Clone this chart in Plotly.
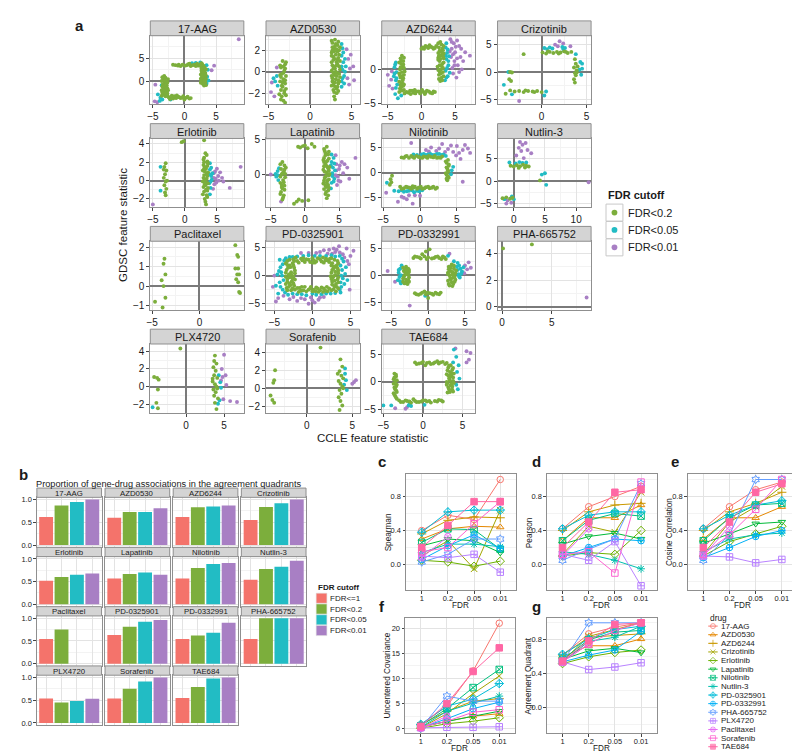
import plotly.graph_objects as go

W, H = 800, 756
FONT = "Liberation Sans, Arial, sans-serif"
TXT = "#1a1a1a"
BORDER = "#8f8f8f"
GRID = "#e3e3e3"
MINOR = "#f3f3f3"
STRIP_FILL = "#d4d4d4"
ZERO = "#7a7a7a"

# ------------------------------------------------------------------ data
drugs = ["17-AAG", "AZD0530", "AZD6244", "Crizotinib", "Erlotinib", "Lapatinib", "Nilotinib",
         "Nutlin-3", "PD-0325901", "PD-0332991", "PHA-665752", "PLX4720", "Paclitaxel",
         "Sorafenib", "TAE684"]
facet_order = ["17-AAG", "AZD0530", "AZD6244", "Crizotinib", "Erlotinib", "Lapatinib",
               "Nilotinib", "Nutlin-3", "Paclitaxel", "PD-0325901", "PD-0332991",
               "PHA-665752", "PLX4720", "Sorafenib", "TAE684"]
fdr_levels = ["1", "0.2", "0.05", "0.01"]
cutoffs_a = ["FDR<0.2", "FDR<0.05", "FDR<0.01"]
cutoffs_b = ["FDR<=1", "FDR<0.2", "FDR<0.05", "FDR<0.01"]

# proportion of associations in agreement quadrants (panel b and g), order = drugs
agreement = [
    [0.62, 0.87, 0.95, 1.00], [0.60, 0.73, 0.73, 0.81], [0.62, 0.83, 0.85, 0.87],
    [0.55, 0.84, 0.92, 1.00], [0.52, 0.60, 0.65, 0.68], [0.57, 0.67, 0.70, 0.65],
    [0.57, 0.80, 0.89, 0.91], [0.54, 0.78, 0.83, 0.96], [0.63, 0.81, 0.92, 0.96],
    [0.54, 0.62, 0.68, 0.90], [0.54, 1.00, 1.00, 1.00], [0.54, 0.45, 0.48, 0.53],
    [0.54, 0.75, None, None], [0.54, 0.75, 0.91, 1.00], [0.55, 0.79, 0.98, 1.00]]
spearman = [
    [0.40, 0.58, 0.53, 1.00], [0.30, 0.42, 0.45, 0.44], [0.36, 0.52, 0.56, 0.55],
    [0.10, 0.28, -0.05, 0.64], [0.05, 0.03, -0.02, 0.04], [0.22, 0.30, 0.28, 0.14],
    [0.26, 0.42, 0.41, 0.18], [0.14, 0.24, 0.24, 0.21], [0.38, 0.62, 0.64, 0.64],
    [0.06, 0.22, 0.35, 0.19], [0.03, 0.12, 0.30, 0.30], [0.10, 0.08, 0.12, -0.09],
    [0.08, 0.33, None, None], [0.15, 0.20, 0.48, 0.74], [0.20, 0.46, 0.74, 0.74]]
pearson = [
    [0.42, 0.68, 0.80, 0.92], [0.28, 0.55, 0.55, 0.70], [0.40, 0.62, 0.70, 0.72],
    [0.12, 0.45, 0.38, 0.85], [0.10, 0.14, 0.12, 0.40], [0.24, 0.33, 0.37, 0.30],
    [0.28, 0.52, 0.60, 0.57], [0.15, 0.12, 0.05, -0.05], [0.42, 0.58, 0.62, 0.62],
    [0.10, 0.20, 0.30, 0.28], [0.05, 0.18, 0.30, 0.95], [0.12, 0.05, 0.27, -0.25],
    [0.10, 0.42, None, None], [0.12, 0.15, -0.10, 0.97], [0.20, 0.50, 0.85, 0.88]]
cosine = [
    [0.42, 0.68, 0.88, 0.97], [0.30, 0.55, 0.55, 0.68], [0.40, 0.62, 0.72, 0.85],
    [0.12, 0.50, 0.68, 0.92], [0.10, 0.27, 0.36, 0.45], [0.25, 0.36, 0.48, 0.50],
    [0.28, 0.55, 0.70, 0.72], [0.15, 0.30, 0.35, 0.37], [0.42, 0.58, 0.70, 0.75],
    [0.08, 0.20, 0.33, 0.40], [0.05, 0.35, 1.00, 1.00], [0.10, 0.09, 0.02, 0.06],
    [0.10, 0.45, None, None], [0.12, 0.35, 0.65, 1.00], [0.20, 0.50, 0.85, 0.95]]
covariance = [
    [0.8, 4.5, 11.5, 21.0], [0.3, 1.5, 2.5, 3.0], [0.8, 3.5, 5.5, 6.0],
    [0.2, 3.0, 7.0, 10.5], [0.1, 1.0, 1.5, 2.2], [0.4, 1.5, 2.5, 3.5],
    [0.6, 4.0, 8.2, 11.8], [0.3, 3.5, 5.1, 6.5], [0.9, 4.5, 5.9, 9.0],
    [0.2, 2.0, 4.0, 5.3], [0.1, 6.5, 5.5, 5.5], [0.2, 0.3, 0.3, 0.4],
    [0.1, 2.5, None, None], [0.3, 1.5, 3.3, 3.8], [0.5, 5.0, 11.4, 16.1]]

# panel a: (CCLE statistic, GDSC statistic) points, per drug and FDR cutoff
aag_g = [(-3.2,1.2),(-3.0,0.8),(-3.3,0.4),(-2.9,0.0),(-3.1,-0.3),(-3.4,-0.6),(-2.8,-0.9),(-3.0,-1.2),(-3.3,-1.5),(-2.9,-1.8),(-3.1,-2.1),(-3.5,-2.4),(-2.7,-2.6),(-3.2,-2.9),(-3.0,-3.2),(-2.8,-0.4),(-3.2,-1.0),(-3.0,-2.0),(-3.4,-2.8),(-2.7,-1.5),(-3.1,0.3),(-3.6,-1.9),
         (-3.5,0.9),(-2.6,0.5),(-3.6,0.1),(-2.7,-0.2),(-3.5,-1.1),(-2.6,-1.9),(-3.3,-2.3),(-2.8,-3.0),(-3.6,-3.1),(-3.0,-2.6),(-3.2,-1.7),(-2.9,-1.4),
         (-2.5,-3.4),(-2.0,-3.1),(-1.5,-3.5),(-1.0,-3.3),(-0.6,-3.6),(-0.2,-3.2),(0.3,-3.5),(0.8,-3.7),(-1.8,-3.7),(-1.2,-3.0),(0.0,-3.9),(-2.3,-3.8),
         (-2.7,-3.0),(-1.6,-3.2),(-0.8,-3.4),(-0.3,-3.5),(0.5,-3.3),(1.0,-3.6),(-2.0,-3.5),(-1.3,-3.6),
         (-1.8,3.6),(-1.0,3.4),(-0.3,3.6),(0.4,3.5),(1.0,3.3),(1.6,3.6),(2.2,3.4),(2.8,3.7),(0.8,3.8),(-0.6,3.3),(1.3,3.5),(2.0,3.8),
         (-1.4,3.5),(0.1,3.4),(0.6,3.7),(1.8,3.3),(2.4,3.6),(-0.9,3.6),
         (2.7,3.9),(3.0,3.4),(3.2,3.0),(2.8,2.6),(3.1,2.2),(3.3,1.8),(2.6,1.5),(2.9,1.1),(3.2,0.8),(3.0,0.4),(2.7,0.1),(3.3,-0.2),(2.9,-0.5),(3.1,-0.9),(2.8,2.0),(3.4,1.2),(2.6,0.6),(3.0,-0.1),(3.1,2.9),(2.9,1.7),
         (2.6,3.3),(3.4,2.6),(2.7,2.3),(3.3,1.5),(2.8,0.9),(3.4,0.5),(2.6,-0.3),(3.2,-0.6),(2.8,1.3),(3.0,1.9),(3.2,0.1),(2.7,2.8),(3.4,-0.8)]
aag_c = [(-4.2,-2.8),(-3.8,-3.5),(-3.6,-0.8),(-3.9,-4.2),(-2.2,-3.9),(1.2,3.9),(1.8,4.0),(2.5,4.1),(3.5,3.5),(3.7,2.5),(3.6,1.0),(3.8,0.2),(3.5,-0.5),(-3.5,-3.9)]
aag_p = [(-4.6,-0.7),(-4.7,-4.3),(-4.3,-4.5),(4.7,3.4),(4.3,2.4),(8.6,9.1)]

azd0530_g = [(-3.3,1.0),(-3.0,0.7),(-3.5,0.4),(-3.1,0.1),(-3.4,-0.2),(-2.9,-0.4),(-3.2,-0.7),(-3.6,-0.9),(-3.0,-1.1),(-3.3,-1.4),(-3.5,-1.7),(-3.1,-2.0),(-3.4,-2.3),(-3.2,-2.7),(-2.9,-1.6),(-3.6,-0.3),(-3.0,0.3),(-3.3,-1.0),(-3.7,-2.1),(-3.2,0.5),
             (-2.9,0.9),(-3.6,0.6),(-3.2,-0.1),(-3.5,-0.5),(-3.0,-0.8),(-3.4,-1.3),(-3.1,-1.8),(-2.9,-2.2),(-3.5,-2.6),(-3.0,-2.9),
             (3.0,3.0),(2.7,2.7),(3.3,2.5),(2.9,2.2),(3.5,2.0),(2.6,1.8),(3.1,1.6),(3.4,1.3),(2.8,1.1),(3.2,0.9),(2.7,0.6),(3.5,0.5),(3.0,0.3),(2.6,0.1),(3.3,-0.1),(2.9,-0.3),(3.6,-0.5),(3.1,-0.7),(2.7,-0.9),(3.4,-1.1),(3.0,-1.4),(2.8,-1.7),(3.2,-2.0),(2.9,-2.3),(3.3,1.9),(2.8,1.4),(3.6,1.0),(3.1,-0.1),(2.6,-0.4),(3.4,-0.8),(3.0,2.4),(3.2,0.6),(2.8,-1.2),(3.5,-0.2),(3.2,-1.6),
             (2.6,2.9),(3.4,2.8),(3.1,2.6),(2.7,2.3),(3.6,2.3),(3.2,2.1),(2.9,1.9),(2.6,1.5),(3.5,1.6),(3.0,1.2),(2.6,0.9),(3.3,0.7),(2.9,0.5),(3.6,0.2),(2.8,-0.1),(3.2,-0.4),(2.7,-0.6),(3.5,-0.9),(3.0,-1.0),(2.6,-1.3),(3.3,-1.4),(2.9,-1.9),(3.4,-1.8),(3.0,-2.6),(2.7,2.0),(3.1,0.0),(3.3,1.1),(2.8,0.3)]
azd0530_c = [(-4.0,-0.4),(-4.2,-0.9),(-3.9,-1.3),(-4.4,-0.6),(3.8,1.5),(4.0,0.9),(3.9,0.2),(4.1,-0.4),(3.8,-0.9),(4.2,1.2),(3.9,2.2),(4.3,0.5),(3.8,-1.4),
             (3.8,0.5),(4.0,1.8),(3.9,-0.6),(4.2,0.0),(3.8,2.6),(4.1,-1.1)]
azd0530_p = [(-4.6,-1.0),(-4.7,-1.9),(-4.3,-2.3),(-4.0,0.4),(4.6,1.2),(4.8,0.3),(5.2,0.5),(4.5,-0.6),(4.9,1.6),(5.3,-0.8),(4.4,2.1),(4.7,-1.2)]

azd6244_g = [(-2.9,2.0),(-3.1,1.6),(-2.7,1.2),(-3.0,0.8),(-2.8,0.4),(-3.2,0.0),(-2.9,-0.4),(-2.6,-0.8),(-3.1,-1.2),(-2.8,-1.6),(-3.0,-2.0),(-2.7,-2.4),(-3.2,-2.8),(-2.9,-3.1),(-2.6,0.2),(-3.3,-0.6),(-2.8,-2.1),(-3.0,1.3),
             (-2.6,1.7),(-3.3,1.0),(-2.7,0.7),(-3.1,0.3),(-2.5,-0.3),(-3.2,-0.9),(-2.7,-1.3),(-3.3,-1.8),(-2.6,-2.2),(-3.0,-2.6),(-2.6,-3.0),(-3.3,-3.3),(-2.9,-1.0),(-3.1,-2.3),
             (-2.2,-3.3),(-1.7,-3.1),(-1.2,-3.4),(-0.7,-3.2),(-0.2,-3.5),(0.3,-3.3),(0.8,-3.1),(1.3,-3.4),(1.8,-3.2),(-1.0,-3.0),(0.5,-3.6),
             (-2.5,-3.5),(-1.9,-3.4),(-1.4,-3.1),(-0.9,-3.5),(-0.4,-3.2),(0.1,-3.0),(0.6,-3.4),(1.1,-3.2),(1.6,-3.5),(2.0,-3.3),(-1.6,-3.6),
             (0.2,3.2),(0.6,3.4),(1.0,3.1),(1.4,3.3),(1.8,3.0),(2.2,3.4),(0.0,3.0),(0.4,3.0),(0.8,3.3),(1.2,3.5),(1.6,3.2),(2.0,3.1),
             (2.8,4.0),(3.0,3.6),(2.6,3.2),(3.2,2.8),(2.5,2.4),(2.9,2.0),(3.3,1.6),(2.7,1.2),(3.1,0.8),(2.4,0.4),(2.9,0.0),(3.2,-0.4),(2.6,-0.8),(3.0,-1.2),(2.8,-1.7),(3.3,2.3),(2.5,1.7),(3.0,0.5),(2.7,-0.3),(3.1,3.0),
             (2.5,3.8),(3.3,3.4),(2.7,2.7),(3.0,2.5),(2.6,2.0),(3.2,1.9),(2.5,1.4),(3.3,1.0),(2.7,0.6),(3.2,0.2),(2.5,-0.1),(2.9,-0.6),(3.3,-1.0),(2.6,-1.4),(3.1,-1.6),(2.8,1.5)]
azd6244_c = [(-3.8,1.0),(-4.0,0.3),(-3.7,-0.4),(-4.1,-1.0),(-3.8,-1.6),(-3.6,-2.2),(-3.9,-3.6),(-3.5,-4.2),(-3.0,-3.8),(3.6,3.2),(3.8,2.4),(3.7,1.5),(4.0,0.6),(3.6,-0.2),(3.9,-1.0),(3.5,-1.6),(4.1,1.9),
             (3.7,3.8),(3.9,2.9),(3.6,2.0),(4.0,1.2),(3.8,0.2),(4.2,-0.5),(3.7,-1.2),(-3.9,0.7),(-4.0,-0.6),(-3.7,-1.3),(-3.8,-2.7)]
azd6244_p = [(-4.5,-1.5),(-4.8,-2.4),(-4.3,-2.8),(-5.0,-0.8),(-4.4,-0.3),(4.3,4.4),(4.8,3.8),(5.3,4.2),(4.5,3.0),(5.0,2.5),(5.6,3.4),(4.4,1.8),(4.9,1.2),(5.4,0.6),(4.6,0.2),(5.8,1.8),(6.5,2.5),(7.2,2.0),(4.7,-0.6),(5.2,-1.2),(6.0,0.0),(4.2,2.6),
             (4.5,4.0),(5.1,3.3),(5.9,3.0),(4.7,2.2),(5.3,1.6),(6.2,1.2),(4.9,0.6),(5.6,-0.4)]

crizotinib_g = [(-2.0,3.2),(0.1,3.5),(0.5,3.3),(0.9,3.6),(1.3,3.4),(1.7,3.6),(2.1,3.5),(2.5,3.7),(2.9,3.4),(3.3,3.6),(0.7,3.7),(1.9,3.3),(2.7,3.6),
                (3.7,2.3),(3.8,1.5),(3.6,0.8),(3.9,0.3),(3.7,-0.2),(3.8,-0.6),(3.6,-1.3),(3.7,-1.9),(4.0,1.0),(3.9,-0.1),
                (-3.5,-3.3),(-3.0,-3.5),(-2.5,-3.4),(-2.0,-3.6),(-1.5,-3.4),(-1.0,-3.5),(-0.5,-3.4),(0.0,-3.6),(-1.8,-3.3),(-0.8,-3.6),
                (-3.5,0.0),(-3.3,-0.1),(-3.6,-1.3),(-3.4,-1.6),(-4.0,-3.9)]
crizotinib_c = [(0.3,4.3),(0.6,4.1),(0.9,4.4),(1.2,4.2),(2.3,4.5),(2.4,4.1),(2.6,4.3),(4.3,1.8),(4.5,1.5),(4.2,0.4),(4.4,-0.5),(4.5,0.6),(3.8,3.2),(0.5,-3.5),(0.3,-4.2),(-4.2,-2.3),(-3.3,-4.0),(-3.7,0.0)]
crizotinib_p = [(1.5,4.9),(2.0,5.5),(2.4,5.1),(1.8,4.6),(-2.5,-5.2),(3.2,4.6)]

erlotinib_g = [(-3.0,1.9),(-3.2,1.5),(-2.9,1.1),(-3.1,0.7),(-3.3,0.3),(-3.0,-0.1),(-3.2,-0.5),(-2.9,-0.9),(-3.1,-1.3),(-3.0,-1.6),(-3.3,1.2),(-2.8,0.0),
               (-0.5,4.2),(-0.2,4.3),(3.0,4.4),
               (3.2,3.0),(3.0,2.5),(3.5,2.1),(2.9,1.7),(3.3,1.3),(3.6,0.9),(3.0,0.6),(3.4,0.2),(2.8,-0.1),(3.2,-0.5),(3.6,-0.8),(3.0,-1.2),(3.4,-1.6),(3.1,-2.0),(3.3,-2.6),(3.5,1.6),(2.9,0.3),(3.3,-0.2),(3.1,1.0),(3.5,-1.1),(3.0,2.0),
               (3.4,2.8),(2.9,2.3),(3.6,1.9),(3.1,1.5),(2.8,1.1),(3.5,0.5),(3.1,0.1),(3.6,-0.3),(2.9,-0.7),(3.3,-1.0),(2.8,-1.5),(3.5,-1.8),(3.2,-2.3),(3.0,1.3),(3.4,0.7),(3.1,-0.4)]
erlotinib_c = [(-3.8,1.5),(-3.8,-1.1),(3.9,1.2),(4.1,0.5),(3.8,-0.3),(4.0,-0.8),(4.2,0.1),(3.9,1.9),(4.3,0.8),(3.8,0.7),(4.0,-0.1),(3.9,-1.5),(4.1,1.4)]
erlotinib_p = [(4.5,0.8),(4.8,0.2),(5.2,0.5),(4.6,-0.4),(5.5,0.9),(6.0,-0.1),(5.0,1.3),(7.0,-0.8),(8.7,1.5),(-5.0,-2.6),(4.4,-0.9),(5.8,0.3),(4.5,0.3),(4.9,-0.2),(5.3,0.0),(4.7,1.0)]

lapatinib_g = [(-3.3,1.8),(-3.0,1.3),(-3.5,0.8),(-3.1,0.4),(-3.4,0.0),(-2.9,-0.4),(-3.2,-0.8),(-3.6,-1.2),(-3.0,-1.6),(-3.3,-2.0),(-3.5,-2.5),(-3.1,-3.0),(-3.3,-3.6),(-2.8,1.0),(-3.4,-1.8),
               (-3.6,1.5),(-3.0,0.7),(-3.3,0.2),(-3.6,-0.3),(-3.1,-1.1),(-3.4,-1.5),(-3.0,-2.2),(-3.6,-2.8),(-3.2,-3.3),(-2.9,0.1),
               (-1.0,4.0),(-0.7,3.9),(0.0,4.2),(0.4,3.8),(1.0,4.4),(1.4,4.0),(-0.3,4.1),
               (-1.6,-4.2),(-0.9,-3.6),(-0.4,-3.8),(0.5,-3.7),(-1.2,-3.9),
               (3.2,4.0),(2.9,3.4),(3.4,2.9),(2.8,2.4),(3.3,2.0),(3.0,1.5),(3.6,1.1),(2.7,0.7),(3.2,0.3),(3.5,-0.1),(2.9,-0.5),(3.3,-0.9),(2.7,-1.3),(3.1,-1.8),(3.4,-2.3),(3.0,-2.8),(3.2,-3.4),(2.8,1.8),(3.5,0.6),(3.1,-0.2),(3.0,2.8),(3.4,-1.5),
               (2.8,3.7),(3.5,3.3),(3.0,3.1),(2.7,2.1),(3.5,2.3),(3.1,1.8),(2.8,1.2),(3.4,0.9),(2.9,0.4),(3.6,0.1),(3.0,-0.3),(3.5,-0.7),(2.8,-0.9),(3.2,-1.2),(3.5,-1.9),(2.8,-2.1),(3.1,-2.5),(3.4,-3.0),(3.2,1.2),(3.0,-1.6)]
lapatinib_c = [(-4.0,0.5),(-4.2,-0.3),(-3.9,-0.8),(-4.3,0.1),(3.9,1.8),(4.1,1.0),(4.0,0.2),(4.3,-0.6),(3.9,-1.2),(4.2,2.4),(4.4,0.6),(3.8,-2.0),
               (3.8,1.3),(4.0,-0.2),(4.2,-1.0),(3.9,2.9),(4.3,1.6),(-4.0,-0.1),(-3.8,0.9)]
lapatinib_p = [(-5.0,0.0),(-3.5,-3.9),(4.6,1.5),(5.0,0.8),(5.4,1.8),(4.8,-0.3),(5.6,0.2),(6.2,1.0),(4.7,-1.5),(5.2,-1.0),(7.4,2.4),(6.5,-0.6),(4.5,2.8),
               (4.6,0.6),(5.1,1.3),(4.9,-0.9),(5.8,1.5),(4.5,-0.1)]

nilotinib_g = [(-2.5,3.1),(-2.0,3.3),(-1.5,3.0),(-1.0,3.2),(-0.5,3.4),(0.0,3.1),(0.5,3.3),(1.0,3.0),(1.5,3.2),(2.0,3.4),(2.5,3.1),(3.0,3.3),(-1.8,3.4),(0.8,3.2),(2.3,3.0),
               (-2.2,3.0),(-1.2,3.4),(-0.2,3.2),(0.3,3.0),(1.2,3.4),(1.8,3.1),(2.8,3.0),(-0.8,3.0),
               (3.8,2.6),(3.6,2.0),(3.9,1.4),(3.7,0.8),(3.8,0.2),(3.6,-0.4),(3.9,-1.0),(3.7,-1.5),
               (3.5,2.3),(3.9,1.7),(3.6,1.1),(3.8,0.5),(3.5,-0.1),(3.8,-0.7),(3.6,-1.2),
               (-2.7,-2.8),(-2.2,-3.1),(-1.7,-2.9),(-1.2,-3.2),(-0.7,-2.8),(-0.2,-3.0),(0.3,-3.2),(0.8,-2.9),(1.3,-3.1),(1.8,-2.8),(2.3,-3.0),(-1.0,-2.7),
               (-2.5,-3.2),(-1.9,-2.8),(-1.4,-3.0),(-0.4,-3.2),(0.1,-2.8),(0.6,-3.1),(1.1,-2.8),(1.6,-3.0),(2.1,-3.2),(-0.9,-3.0),
               (-4.0,-1.3),(-3.9,-1.9),(-4.1,-2.4),(-3.8,-0.6)]
nilotinib_c = [(0.2,3.7),(0.8,3.6),(1.4,3.8),(2.0,3.6),(2.6,3.8),(3.2,3.7),(3.5,3.4),(-0.4,3.6),(4.5,1.2),(4.3,0.5),(4.2,-0.3),(-3.5,-3.6),(-2.9,-3.7),(-2.2,-3.8),(-1.5,-3.6),(-0.8,-3.9),(-0.1,-3.7),(-4.5,-2.0),
               (-0.9,3.7),(0.5,3.8),(1.1,3.7),(1.7,3.6),(2.3,3.8),(2.9,3.6),(-2.5,-3.5),(-1.8,-3.7),(-1.1,-3.5),(-0.4,-3.6),(0.3,-3.5)]
nilotinib_p = [(0.8,4.6),(1.5,5.1),(2.2,4.4),(3.0,5.8),(3.8,4.8),(4.5,4.2),(5.0,5.4),(5.8,4.6),(6.5,4.9),(4.9,3.5),(5.5,2.8),(6.8,4.0),(5.8,-1.8),(-1.2,6.0),(-2.5,-4.8),(-1.8,-5.3),(-0.7,-4.5),(-3.0,-5.8),(-1.0,-6.2),(-4.6,-4.0),
               (1.2,4.3),(2.6,4.9),(4.2,5.5),(3.4,4.2),(5.3,4.0),(6.1,5.6),(-1.5,-4.5),(-2.2,-5.0),(0.0,-4.6)]

nutlin_g = [(-0.5,3.5),(0.0,3.3),(0.5,3.6),(1.0,3.4),(1.5,3.7),(2.0,3.5),(2.4,3.3),(0.8,3.0),(1.8,3.1),(4.2,0.2),(-1.8,-3.8),(-1.2,-3.6),(-0.6,-3.9),(-0.2,-3.7)]
nutlin_c = [(-0.7,4.2),(0.3,4.0),(0.9,4.3),(1.4,4.1),(2.0,4.2),(4.5,1.5),(5.0,1.8),(5.2,-0.8),(-1.5,-4.0),(-0.3,-3.4),(0.0,-4.0)]
nutlin_p = [(1.0,8.8),(1.4,8.2),(0.8,7.5),(1.9,8.6),(1.2,6.8),(2.2,7.0),(0.4,5.8),(2.8,6.3),(1.6,5.2),(12.0,-0.2),(-1.0,-4.3),(-1.2,-5.0),(-0.4,-4.8)]

paclitaxel_g = [(-4.7,-0.8),(-3.9,-1.1),(-3.7,1.4),(-3.8,1.15),(-3.6,0.6),(-4.0,0.3),(-3.8,0.0),(-3.6,-0.6),
                (3.8,2.1),(4.0,1.6),(4.1,1.5),(3.8,0.9),(4.1,0.9),(4.0,0.6),(4.2,0.6),(3.9,0.35),(4.1,0.2),(4.2,-0.3),(4.3,-0.35)]
paclitaxel_c = []
paclitaxel_p = []

pd0325901_g = [(-3.3,2.6),(-2.6,2.2),(-3.0,1.8),(-2.4,1.4),(-3.4,1.0),(-2.8,0.6),(-3.1,0.2),(-2.5,-0.2),(-3.3,-0.6),(-2.7,-1.0),(-3.0,-1.4),(-2.4,-1.8),(-3.4,-2.2),(-2.8,-2.6),(-2.3,0.9),(-3.5,-1.5),(-2.6,-0.5),(-3.2,1.4),
               (-3.0,2.8),(-2.4,2.6),(-3.5,2.2),(-2.9,1.5),(-3.3,1.9),(-2.5,1.8),(-3.5,0.5),(-2.8,0.2),(-2.3,0.4),(-3.0,-0.3),(-3.5,-0.2),(-2.3,-0.7),(-2.9,-1.7),(-3.3,-1.1),(-2.5,-1.4),(-3.1,-2.0),(-2.6,-2.3),(-3.3,-2.6),
               (-2.0,2.6),(-1.5,3.0),(-1.0,2.4),(-0.5,2.8),(0.0,3.1),(0.5,2.5),(1.0,2.9),(1.5,2.3),(2.0,2.7),(2.5,3.1),(-1.2,3.1),(0.3,2.3),(1.8,3.0),
               (-2.5,2.9),(-1.8,2.3),(-1.3,2.7),(-0.8,2.9),(-0.3,2.4),(0.2,2.7),(0.7,3.1),(1.2,2.5),(1.7,2.7),(2.2,2.4),(2.3,3.0),(-2.2,3.2),(0.0,2.3),(1.4,3.2),
               (2.6,2.2),(3.2,1.8),(2.8,1.3),(3.4,0.9),(2.5,0.5),(3.0,0.1),(2.7,-0.3),(3.3,-0.7),(2.6,-1.1),(3.1,-1.5),(2.9,-1.9),(3.4,-2.3),(2.5,-2.6),(3.3,2.6),(2.4,-0.1),
               (2.9,2.8),(3.4,2.2),(2.5,1.8),(2.9,1.6),(3.3,1.3),(2.6,1.0),(3.0,0.7),(3.4,0.4),(2.8,-0.1),(3.4,-0.3),(2.5,-0.6),(2.9,-0.9),(3.4,-1.2),(2.6,-1.6),(3.2,-2.0),(2.8,-2.4),(3.1,-2.8),
               (-2.0,-2.2),(-1.5,-2.7),(-1.0,-2.0),(-0.5,-2.5),(0.0,-2.8),(0.5,-2.1),(1.0,-2.6),(1.5,-2.3),(2.0,-2.8),(-1.8,-2.9),(0.8,-2.9),(-0.2,-2.0),(1.9,-2.0),
               (-2.3,-2.5),(-1.7,-2.2),(-1.2,-2.6),(-0.8,-2.8),(-0.3,-2.3),(0.2,-2.5),(0.7,-2.3),(1.2,-2.1),(1.7,-2.7),(2.2,-2.3),(-1.4,-2.0),(0.4,-2.8),(1.4,-2.9)]
pd0325901_c = [(-4.2,1.5),(-4.0,0.0),(-4.3,-1.2),(-3.9,-2.5),(-3.7,2.7),(-4.5,-3.2),(-3.2,-3.4),(-2.0,-3.3),(-0.8,-3.5),(0.5,-3.4),(1.8,-3.2),(3.0,-3.1),(3.8,-2.0),(4.0,-0.5),(3.9,1.0),(4.1,2.5),(3.6,3.5),(2.5,3.6),(1.0,3.5),(-0.5,3.6),(-2.0,3.4),(-3.0,3.3),(-4.4,0.8),(4.3,0.3),(-4.8,-1.8),(3.7,-3.0),
               (-3.9,2.0),(-4.1,0.6),(-3.8,-0.8),(-4.2,-2.0),(-3.6,-3.0),(-2.6,-3.2),(-1.4,-3.3),(0.0,-3.2),(1.2,-3.3),(2.4,-3.2),(3.6,-2.5),(3.7,-1.2),(3.8,0.0),(3.7,1.8),(3.9,3.0),(3.0,3.4),(1.8,3.5),(0.3,3.5),(-1.2,3.5),(-2.6,3.3),(-3.5,3.1),(4.4,1.5),(-4.6,0.2),(4.2,-1.5),(-4.3,2.8),(4.6,-0.8)]
pd0325901_p = [(-1.0,-4.2),(-2.0,-4.5),(0.0,-4.4),(1.0,-3.9),(-2.5,-3.8),(-4.8,-4.6),(-0.5,-5.0),(0.3,-4.8),(2.0,3.9),(3.0,4.2),(4.0,3.8),(4.5,4.8),(1.5,4.5),(3.5,5.2),(5.0,3.5),(4.8,2.0),(-5.0,0.0),(-4.5,-4.0),(2.8,4.8),(5.4,4.4),(0.5,4.0),
               (-1.5,-4.0),(-0.2,-3.9),(0.8,-4.3),(-3.0,-4.2),(-3.8,-3.6),(1.5,-3.8),(2.6,3.9),(3.6,4.1),(4.2,3.2),(1.0,4.2),(-0.5,4.0),(4.6,2.6),(3.2,4.6),(2.2,4.6),(-1.5,4.0),(4.9,-2.5),(-5.2,-2.0)]

pd0332991_g = [(-3.0,1.6),(-2.7,1.2),(-3.3,0.8),(-2.8,0.4),(-3.2,0.0),(-2.6,-0.4),(-3.0,-0.8),(-3.4,-1.2),(-2.8,-1.6),(-3.1,1.1),(-2.6,0.6),(-3.3,-0.3),(-2.9,-1.1),
               (-3.4,1.4),(-2.6,1.0),(-3.1,0.5),(-2.7,0.1),(-3.4,-0.6),(-2.7,-0.9),(-3.2,-1.5),(-2.6,-1.2),(-3.0,0.2),(-2.9,0.9),
               (3.2,2.0),(2.8,1.6),(3.5,1.2),(3.0,0.8),(3.7,0.4),(2.9,0.0),(3.4,-0.4),(3.1,-0.8),(3.6,-1.2),(2.8,-1.6),(3.3,-2.0),(3.0,1.3),(3.5,-0.1),(2.7,0.5),(3.2,-1.3),(3.8,0.9),
               (3.5,1.8),(2.8,1.1),(3.3,0.6),(2.7,0.2),(3.6,-0.2),(3.0,-0.5),(2.7,-1.0),(3.4,-1.6),(3.7,-0.8),(3.1,1.6),(3.3,0.2),(2.9,-1.9),
               (-2.0,3.2),(-1.5,3.4),(-1.0,3.1),(-0.5,3.5),(0.0,3.3),(0.5,3.1),(1.0,3.4),(1.5,3.2),(2.0,3.5),(2.4,3.0),(-0.3,4.4),(-0.8,3.9),(0.2,4.8),
               (-1.8,3.5),(-1.2,3.3),(-0.2,3.0),(0.8,3.2),(1.3,3.5),(1.8,3.0),(2.2,3.3),
               (-1.8,-3.3),(-1.3,-3.6),(-0.8,-3.2),(-0.3,-3.5),(0.2,-3.3),(0.7,-3.6),(1.2,-3.4),(1.7,-3.2),(0.0,-4.2),(-0.5,-3.0),
               (-1.6,-3.5),(-1.0,-3.4),(-0.1,-3.2),(0.5,-3.4),(1.0,-3.2),(1.5,-3.5)]
pd0332991_c = [(-3.8,1.2),(-4.0,0.5),(-3.9,-0.3),(-4.1,-0.9),(-3.7,-1.5),(-3.6,1.8),(4.2,1.8),(4.4,1.2),(4.6,0.7),(4.1,0.2),(4.3,-0.4),(4.0,2.3),(2.7,3.6),(3.5,2.6),(-0.4,-3.8),(4.8,1.5),
               (-3.7,0.0),(-3.8,-1.1),(-4.0,1.0),(4.0,1.0),(4.2,-0.2),(3.9,1.6),(4.5,0.3)]
pd0332991_p = [(-5.5,0.8),(-2.5,-5.6),(5.0,1.8),(5.3,1.1),(5.5,2.4),(4.9,0.4),(5.8,1.4),(-4.5,-1.2),(2.9,4.0)]

pha_g = [(0.1,4.4),(3.0,4.7)]
pha_c = []
pha_p = [(8.5,0.7)]

plx_g = [(-0.75,4.3),(-4.2,1.1),(-3.8,1.0),(-3.6,0.8),(-3.7,-0.3),(-3.9,-1.8),(-3.7,-2.4),(3.8,3.5),(3.7,2.9),(4.0,2.6),(3.6,2.2),(3.9,1.8),(3.7,1.3),(4.1,1.0),(3.5,0.6),(3.8,0.3),(4.0,0.0),(3.6,-0.3),(3.9,-0.6),(3.7,-1.0),(4.2,-1.3),(3.8,-1.8),(4.0,-2.5),(3.5,0.9),(4.1,-0.2)]
plx_c = [(-4.4,-2.3),(4.3,1.3),(4.5,0.5),(4.6,-0.1),(4.4,-1.5),(4.2,-1.9)]
plx_p = [(5.0,3.6),(4.8,1.1),(5.2,1.3),(4.6,0.7),(5.3,0.2),(4.9,-1.4),(5.8,-1.6),(6.7,-1.7),(4.7,2.0)]

sorafenib_g = [(1.5,4.5),(-3.5,2.0),(-3.6,0.9),(-3.7,0.6),(-4.0,-0.8),(-3.8,-1.3),(-3.6,-1.6),(3.7,3.2),(3.9,2.4),(3.6,1.9),(3.8,1.4),(4.0,1.1),(3.5,0.8),(3.7,0.5),(3.9,0.2),(3.6,-0.2),(3.8,-0.6),(3.5,-1.0),(3.7,-1.4),(3.9,-1.9),(3.6,-2.4),(3.4,1.6),(4.0,0.0)]
sorafenib_c = [(4.2,1.6),(4.3,0.9),(4.1,0.4),(4.4,-0.2),(4.2,2.2)]
sorafenib_p = [(5.0,0.5),(5.4,0.9),(5.2,0.7)]

tae684_g = [(-1.0,3.5),(-0.5,3.3),(0.0,3.6),(0.5,3.4),(1.0,3.2),(1.5,3.5),(2.0,3.3),(2.5,3.6),(3.0,3.4),(0.3,3.0),(1.8,3.7),
            (-0.8,3.2),(-0.2,3.4),(0.8,3.5),(1.3,3.3),(2.2,3.5),(2.8,3.2),
            (3.5,3.0),(3.2,2.6),(3.7,2.2),(3.4,1.8),(3.0,1.4),(3.6,1.0),(3.3,0.6),(3.8,0.2),(3.1,-0.2),(3.5,-0.6),(3.2,-1.0),(3.7,-1.4),(3.4,-1.8),(3.9,1.5),(3.0,0.0),(3.6,-0.3),
            (3.3,2.9),(3.8,2.5),(3.1,2.1),(3.6,1.6),(3.2,1.1),(3.8,0.8),(3.4,0.3),(3.0,-0.5),(3.7,-0.8),(3.3,-1.3),(3.8,-1.7),(3.1,-1.9),(3.5,1.3),(3.9,-0.2),
            (-3.0,-3.3),(-2.5,-3.6),(-2.0,-3.4),(-1.5,-3.7),(-1.0,-3.4),(-0.5,-3.6),(0.0,-3.3),(0.5,-3.5),(1.0,-3.7),(1.5,-3.4),(2.0,-3.2),(2.5,-3.5),(-1.2,-3.1),
            (-2.8,-3.6),(-2.2,-3.3),(-1.7,-3.5),(-0.8,-3.6),(-0.2,-3.5),(0.3,-3.3),(0.8,-3.4),(1.8,-3.5),(2.3,-3.3),
            (-3.6,1.5),(-3.4,1.0),(-3.7,0.5),(-3.5,0.0),(-3.3,-0.5),(-3.6,-1.0),(-3.4,-1.5),(-3.7,-2.0),(-3.5,-2.5),(-3.3,-3.0),
            (-3.4,1.3),(-3.6,0.8),(-3.3,0.3),(-3.7,-0.3),(-3.4,-0.8),(-3.5,-1.3),(-3.3,-1.8),(-3.6,-2.3),(-3.4,-2.8)]
tae684_c = [(3.8,3.5),(4.2,4.5),(4.5,3.0),(4.3,1.8),(4.6,0.6),(4.2,-0.5),(4.4,-1.3),(-1.8,-4.2),(-1.5,-4.3),(-1.7,-4.0),(-5.0,-4.2),(-4.0,-4.2),(0.2,-4.1),(3.9,5.8)]
tae684_p = [(5.5,5.5),(6.0,5.2),(5.5,3.5),(5.8,4.0),(-2.0,-4.5),(-2.2,-4.8),(-3.5,-4.7),(4.1,6.0)]

scatter_sets = {
    "17-AAG": (aag_g, aag_c, aag_p), "AZD0530": (azd0530_g, azd0530_c, azd0530_p),
    "AZD6244": (azd6244_g, azd6244_c, azd6244_p), "Crizotinib": (crizotinib_g, crizotinib_c, crizotinib_p),
    "Erlotinib": (erlotinib_g, erlotinib_c, erlotinib_p), "Lapatinib": (lapatinib_g, lapatinib_c, lapatinib_p),
    "Nilotinib": (nilotinib_g, nilotinib_c, nilotinib_p), "Nutlin-3": (nutlin_g, nutlin_c, nutlin_p),
    "Paclitaxel": (paclitaxel_g, paclitaxel_c, paclitaxel_p), "PD-0325901": (pd0325901_g, pd0325901_c, pd0325901_p),
    "PD-0332991": (pd0332991_g, pd0332991_c, pd0332991_p), "PHA-665752": (pha_g, pha_c, pha_p),
    "PLX4720": (plx_g, plx_c, plx_p), "Sorafenib": (sorafenib_g, sorafenib_c, sorafenib_p),
    "TAE684": (tae684_g, tae684_c, tae684_p)}

# ------------------------------------------------------------------ styles / layout config
A_COLORS = ["#7cae3c", "#22bcc4", "#a87fc4"]            # FDR<0.2, <0.05, <0.01
B_COLORS = ["#f4736b", "#7cae3c", "#22bcc4", "#a87fc4"]
DRUG_COLORS = ["#F8766D", "#E58700", "#C99800", "#A3A500", "#6BB100", "#00BA38", "#00BF7D",
               "#00C0AF", "#00BCD8", "#00B0F6", "#619CFF", "#B983FF", "#E76BF3", "#FD61D1", "#FF67A4"]
DRUG_SYMBOLS = ["circle-open", "triangle-up-open", "cross-thin-open", "x-thin-open", "diamond-open",
                "triangle-down-open", "square-x-open", "asterisk-open", "diamond-cross-open",
                "circle-cross-open", "hexagram-open", "square-cross-open", "circle-x-open",
                "square-open", "square"]

A_AXES = {
    "17-AAG": ([-5.4, 9.4], [-4.95, 9.85], 5, 5), "AZD0530": ([-5.3, 5.96], [-3.05, 3.37], 5, 2),
    "AZD6244": ([-5.9, 8.0], [-5.1, 4.9], 5, 5), "Crizotinib": ([-4.9, 5.5], [-5.8, 6.5], 5, 5),
    "Erlotinib": ([-5.4, 9.2], [-2.9, 4.6], 5, 2), "Lapatinib": ([-5.7, 8.0], [-4.7, 5.2], 5, 5),
    "Nilotinib": ([-5.2, 7.5], [-6.9, 6.9], 5, 5), "Nutlin-3": ([-2.6, 12.4], [-5.8, 9.6], 5, 5),
    "Paclitaxel": ([-5.2, 4.7], [-1.22, 2.3], 5, 1), "PD-0325901": ([-6.1, 6.2], [-6.1, 6.1], 5, 5),
    "PD-0332991": ([-6.3, 6.4], [-6.4, 6.3], 5, 5), "PHA-665752": ([-0.45, 8.95], [-0.24, 4.94], 5, 2),
    "PLX4720": ([-4.7, 7.6], [-2.9, 4.8], 5, 2), "Sorafenib": ([-4.5, 5.8], [-2.7, 4.9], 5, 2),
    "TAE684": ([-5.2, 6.6], [-5.5, 6.8], 5, 5)}

fig = go.Figure()
axes_layout = {}
shapes = []
annotations = []
counter = [0]


def add_axes(x0, x1, y0, y1, xopts, yopts):
    counter[0] += 1
    n = counter[0]
    xn = "x" if n == 1 else f"x{n}"
    yn = "y" if n == 1 else f"y{n}"
    axes_layout["xaxis" if n == 1 else f"xaxis{n}"] = dict(domain=[x0 / W, x1 / W], anchor=yn, **xopts)
    axes_layout["yaxis" if n == 1 else f"yaxis{n}"] = dict(domain=[1 - y1 / H, 1 - y0 / H], anchor=xn, **yopts)
    return xn, yn


def frame_axis(size=10, **kw):
    d = dict(showline=True, mirror=True, linecolor=BORDER, linewidth=1,
             ticks="outside", ticklen=3, tickwidth=1, tickcolor="#444444",
             tickfont=dict(family=FONT, size=size, color=TXT),
             showgrid=True, gridcolor=GRID, gridwidth=1, zeroline=False, fixedrange=True)
    d.update(kw)
    return d


def text(t, x, y, size, bold=False, xanchor="center", yanchor="middle", angle=0, color=TXT):
    annotations.append(dict(text=f"<b>{t}</b>" if bold else t, x=x / W, y=1 - y / H,
                            xref="paper", yref="paper", showarrow=False, xanchor=xanchor,
                            yanchor=yanchor, textangle=angle,
                            font=dict(family=FONT, size=size, color=color)))


def strip(x0, x1, y0, y1, label, size):
    shapes.append(dict(type="rect", xref="paper", yref="paper", x0=x0 / W, x1=x1 / W,
                       y0=1 - y1 / H, y1=1 - y0 / H, fillcolor=STRIP_FILL,
                       line=dict(color=BORDER, width=1)))
    text(label, (x0 + x1) / 2, (y0 + y1) / 2 + 0.5, size)


# ------------------------------------------------------------------ panel a
A_COL_X = [139, 255.3, 371.6, 488]
A_ROW_TOP = [24, 128, 232, 336]
A_W, A_H = 94, 69.5
for i, drug in enumerate(facet_order):
    r, c = divmod(i, 4)
    x0, top = A_COL_X[c], A_ROW_TOP[r]
    xr, yr, xd, yd = A_AXES[drug]
    xo = frame_axis(range=xr, dtick=xd, tick0=0, zeroline=True, zerolinecolor=ZERO, zerolinewidth=1.6,
                    minor=dict(dtick=xd / 2, tick0=0, showgrid=True, gridcolor=MINOR, gridwidth=1))
    yo = frame_axis(range=yr, dtick=yd, tick0=0, zeroline=True, zerolinecolor=ZERO, zerolinewidth=1.6,
                    minor=dict(dtick=yd / 2, tick0=0, showgrid=True, gridcolor=MINOR, gridwidth=1))
    xn, yn = add_axes(x0, x0 + A_W, top, top + A_H, xo, yo)
    sets = scatter_sets[drug]
    for k in (2, 1, 0):
        pts = sets[k]
        if not pts:
            continue
        fig.add_trace(go.Scatter(x=[p[0] for p in pts], y=[p[1] for p in pts], mode="markers",
                                 marker=dict(color=A_COLORS[k], size=3.9, line=dict(width=0)),
                                 xaxis=xn, yaxis=yn, hoverinfo="skip"))
    strip(x0, x0 + A_W, top - 15, top, drug, 11)

text("a", 68, 14, 15, bold=True)
text("GDSC feature statistic", 112, 215, 11.5, angle=-90)
text("CCLE feature statistic", 362, 431, 11.5)
# legend a
text("FDR cutoff", 597, 185, 11, bold=True, xanchor="left")
for k, lab in enumerate(cutoffs_a):
    cy = 203 + 17.6 * k
    shapes.append(dict(type="rect", xref="paper", yref="paper", x0=597 / W, x1=614 / W,
                       y0=1 - (cy + 8.6) / H, y1=1 - (cy - 8.6) / H, fillcolor="white",
                       line=dict(color="#c8c8c8", width=1)))
    shapes.append(dict(type="circle", xref="paper", yref="paper", x0=602.6 / W, x1=608.4 / W,
                       y0=1 - (cy + 2.9) / H, y1=1 - (cy - 2.9) / H, fillcolor=A_COLORS[k],
                       line=dict(width=0)))
    text(lab, 617, cy, 11, xanchor="left")

# ------------------------------------------------------------------ panel b
B_COL_X = [25 + 68.5 * c for c in range(4)]
B_W = 65
for i, drug in enumerate(facet_order):
    r, c = divmod(i, 4)
    zero_px, one_px = 539.5 + 60 * r, 493.5 + 60 * r
    ppu = zero_px - one_px
    top, bot = one_px - 0.05 * ppu, zero_px + 0.05 * ppu
    x0 = B_COL_X[c]
    xo = frame_axis(size=7.5, type="category", range=[-0.6, 3.6], showticklabels=False, ticks="",
                    categoryorder="array", categoryarray=cutoffs_b)
    yo = frame_axis(size=7.5, range=[-0.05, 1.05], dtick=0.5, tick0=0, tickformat=".1f",
                    showticklabels=(c == 0), ticks="outside" if c == 0 else "", ticklen=2.5,
                    minor=dict(dtick=0.25, tick0=0, showgrid=True, gridcolor=MINOR, gridwidth=1))
    xn, yn = add_axes(x0, x0 + B_W, top, bot, xo, yo)
    vals = agreement[drugs.index(drug)]
    fig.add_trace(go.Bar(x=cutoffs_b, y=vals, width=0.9, marker=dict(color=B_COLORS, line=dict(width=0)),
                         xaxis=xn, yaxis=yn, hoverinfo="skip"))
    strip(x0, x0 + B_W, top - 9.4, top, drug, 7.8)

text("b", 12, 468, 15, bold=True)
text("Proportion of gene-drug associations in the agreement quadrants", 292, 477.5, 9.2, xanchor="right")
text("FDR cutoff", 305.5, 582, 8, bold=True, xanchor="left")
for k, lab in enumerate(cutoffs_b):
    cy = 593.3 + 10.9 * k
    shapes.append(dict(type="rect", xref="paper", yref="paper", x0=305.7 / W, x1=316.5 / W,
                       y0=1 - (cy + 5.1) / H, y1=1 - (cy - 5.1) / H, fillcolor=B_COLORS[k],
                       line=dict(color="#e0e0e0", width=0.6)))
    text(lab, 318, cy, 8, xanchor="left")

# ------------------------------------------------------------------ panels c-g
CG_W, CG_H = 110.5, 117
cg_panels = [
    ("c", spearman, "Spearman", 396, 468, [-0.30, 1.06], 0.4, ".1f", 372, 455),
    ("d", pearson, "Pearson", 537.5, 468, [-0.30, 1.06], 0.4, ".1f", 527, 455),
    ("e", cosine, "Cosine Correlation", 679, 468, [-0.30, 1.06], 0.4, ".1f", 666, 455),
    ("f", covariance, "Uncentered Covariance", 395, 613, [-0.9, 22.1], 5, "d", 372, 602),
    ("g", agreement, "Agreement Quadrant", 537.5, 613, [-0.30, 1.06], 0.4, ".1f", 527, 602),
]
for letter, metric, ytitle, x0, top, yr, yd, yfmt, lx, ly in cg_panels:
    xo = frame_axis(size=7.5, type="category", range=[-0.6, 3.6], categoryorder="array",
                    categoryarray=fdr_levels, ticklen=2.5, ticklabelstandoff=-2)
    yo = frame_axis(size=7.5, range=yr, dtick=yd, tick0=0, tickformat=yfmt, ticklen=2.5,
                    minor=dict(dtick=yd / 2, tick0=0, showgrid=True, gridcolor=MINOR, gridwidth=1))
    xn, yn = add_axes(x0, x0 + CG_W, top, top + CG_H, xo, yo)
    for j, drug in enumerate(drugs):
        fig.add_trace(go.Scatter(
            x=fdr_levels, y=metric[j], mode="lines+markers", xaxis=xn, yaxis=yn,
            line=dict(color=DRUG_COLORS[j], width=1),
            marker=dict(symbol=DRUG_SYMBOLS[j], size=6.5, color=DRUG_COLORS[j],
                        line=dict(color=DRUG_COLORS[j], width=1)),
            hoverinfo="skip"))
    text(letter, lx, ly, 15, bold=True)
    text(ytitle, x0 - 18, top + CG_H / 2, 8.2, angle=-90)
    text("FDR", x0 + CG_W / 2, top + CG_H + 15.5, 8.2)

# drug legend (keys drawn on a hidden axis, one row per drug)
LEG_TOP, LEG_STEP = 621.5, 8.72
half = LEG_STEP / 2
xo = dict(domain=[699.5 / W, 709.5 / W], range=[-0.05, 2.05], visible=False, fixedrange=True)
yo = dict(domain=[1 - (LEG_TOP + 14 * LEG_STEP + half) / H, 1 - (LEG_TOP - half) / H],
          range=[14.5, -0.5], visible=False, fixedrange=True)
counter[0] += 1
n = counter[0]
axes_layout[f"xaxis{n}"] = dict(anchor=f"y{n}", **xo)
axes_layout[f"yaxis{n}"] = dict(anchor=f"x{n}", **yo)
for j, drug in enumerate(drugs):
    fig.add_trace(go.Scatter(x=[0, 1, 2], y=[j, j, j], mode="lines+markers", xaxis=f"x{n}", yaxis=f"y{n}",
                             line=dict(color=DRUG_COLORS[j], width=1),
                             marker=dict(symbol=DRUG_SYMBOLS[j], size=[0, 5, 0], color=DRUG_COLORS[j],
                                         line=dict(color=DRUG_COLORS[j], width=1)),
                             cliponaxis=False, hoverinfo="skip"))
    text(drug, 711, LEG_TOP + LEG_STEP * j, 8, xanchor="left")
text("drug", 699.5, 613.5, 8.4, xanchor="left")

fig.update_layout(width=W, height=H, margin=dict(l=0, r=0, t=0, b=0), paper_bgcolor="white",
                  plot_bgcolor="white", showlegend=False, bargap=0.1,
                  font=dict(family=FONT, color=TXT), shapes=shapes, annotations=annotations,
                  **axes_layout)
fig.write_html("out.html")
